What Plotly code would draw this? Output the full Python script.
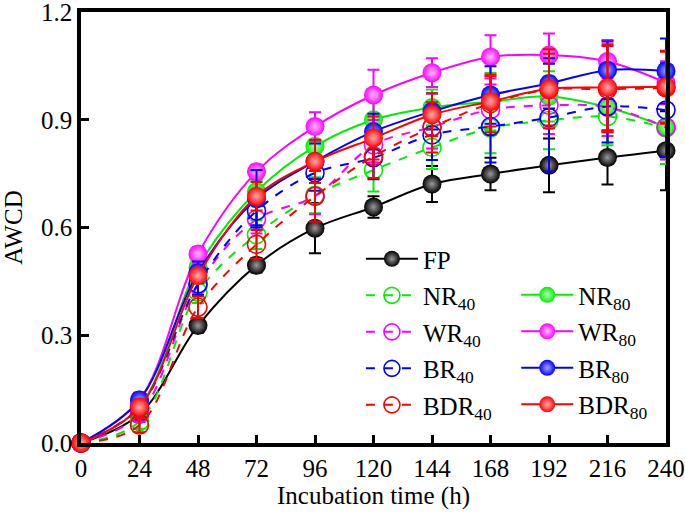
import plotly.graph_objects as go

hours = [0, 24, 48, 72, 96, 120, 144, 168, 192, 216, 240]

fp = [0, 0.08, 0.327, 0.495, 0.598, 0.657, 0.721, 0.749, 0.773, 0.795, 0.814]
nr40 = [0, 0.06, 0.42, 0.58, 0.69, 0.76, 0.823, 0.877, 0.898, 0.909, 0.877]
nr80 = [0, 0.10, 0.49, 0.70, 0.826, 0.90, 0.934, 0.95, 0.965, 0.935, 0.88]
wr40 = [0, 0.08, 0.44, 0.623, 0.687, 0.83, 0.88, 0.928, 0.94, 0.935, 0.879]
wr80 = [0, 0.12, 0.526, 0.755, 0.881, 0.969, 1.031, 1.075, 1.08, 1.062, 1.003]
br40 = [0, 0.10, 0.443, 0.646, 0.752, 0.794, 0.858, 0.881, 0.906, 0.937, 0.927]
br80 = [0, 0.12, 0.475, 0.68, 0.784, 0.867, 0.923, 0.969, 1.001, 1.038, 1.036]
bdr40 = [0, 0.05, 0.378, 0.553, 0.687, 0.798, 0.879, 0.945, 0.984, 0.985, 0.989]
bdr80 = [0, 0.10, 0.466, 0.687, 0.784, 0.849, 0.914, 0.951, 0.986, 0.99, 0.992]

fp_err = [0, 0.02, 0.02, 0.02, 0.07, 0.03, 0.05, 0.045, 0.075, 0.075, 0.11]
nr40_err = [0, 0.02, 0.03, 0.04, 0.05, 0.06, 0.06, 0.07, 0.08, 0.08, 0.1]
nr80_err = [0, 0.02, 0.03, 0.03, 0.04, 0.05, 0.05, 0.08, 0.07, 0.07, 0.09]
wr40_err = [0, 0.02, 0.03, 0.04, 0.05, 0.05, 0.06, 0.07, 0.08, 0.08, 0.09]
wr80_err = [0, 0.02, 0.02, 0.02, 0.04, 0.07, 0.04, 0.06, 0.06, 0.06, 0.06]
br40_err = [0, 0.02, 0.03, 0.04, 0.05, 0.06, 0.07, 0.1, 0.15, 0.1, 0.13]
br80_err = [0, 0.02, 0.03, 0.08, 0.05, 0.05, 0.05, 0.08, 0.07, 0.08, 0.09]
bdr40_err = [0, 0.02, 0.03, 0.04, 0.07, 0.06, 0.07, 0.08, 0.1, 0.12, 0.1]
bdr80_err = [0, 0.02, 0.02, 0.04, 0.06, 0.06, 0.06, 0.07, 0.11, 0.12, 0.1]

x_ticks = [0, 24, 48, 72, 96, 120, 144, 168, 192, 216, 240]
y_ticks = [0.0, 0.3, 0.6, 0.9, 1.2]

GREEN = "#00ee00"
MAG = "#ff00ff"
BLUE = "#0000ff"
RED = "#ff0000"
BLACK = "#000000"

series = [
    ("FP", fp, fp_err, BLACK, "#9a9a9a", True, "legend"),
    ("NR<sub>40</sub>", nr40, nr40_err, GREEN, None, False, "legend"),
    ("NR<sub>80</sub>", nr80, nr80_err, GREEN, "#b8ffb8", True, "legend2"),
    ("WR<sub>40</sub>", wr40, wr40_err, MAG, None, False, "legend"),
    ("WR<sub>80</sub>", wr80, wr80_err, MAG, "#ffc0ff", True, "legend2"),
    ("BR<sub>40</sub>", br40, br40_err, BLUE, None, False, "legend"),
    ("BR<sub>80</sub>", br80, br80_err, BLUE, "#a8a8ff", True, "legend2"),
    ("BDR<sub>40</sub>", bdr40, bdr40_err, RED, None, False, "legend"),
    ("BDR<sub>80</sub>", bdr80, bdr80_err, RED, "#ffb0b0", True, "legend2"),
]

FONT = "Liberation Serif"
FS = 25

fig = go.Figure()
for i, (name, ys, err, col, hl, filled, leg) in enumerate(series):
    if filled:
        marker = dict(symbol="circle", size=19, color=col,
                      gradient=dict(type="radial", color=hl),
                      line=dict(width=0))
        line = dict(color=col, width=2, shape="spline", smoothing=1)
    else:
        marker = dict(symbol="circle-open", size=18, color=col,
                      line=dict(width=1.6, color=col))
        line = dict(color=col, width=2, dash="dash", shape="spline", smoothing=1)
    fig.add_trace(go.Scatter(
        x=hours, y=ys, name=name, mode="lines+markers",
        line=line, marker=marker, cliponaxis=False,
        error_y=dict(type="data", array=err, visible=True, color=col,
                     thickness=2, width=6),
        legend=leg, legendgroup=f"g{i}",
    ))

axis_common = dict(
    showline=True, linewidth=3.5, linecolor="black", mirror=True,
    ticks="inside", ticklen=8, tickwidth=3, tickcolor="black",
    showgrid=False, zeroline=False, automargin=False,
    ticklabeloverflow="allow",
    tickfont=dict(family=FONT, size=FS, color="black"),
)

fig.update_layout(
    width=685, height=516,
    margin=dict(l=81, r=19, t=12, b=73),
    paper_bgcolor="white", plot_bgcolor="white",
    font=dict(family=FONT, size=FS, color="black"),
    xaxis=dict(range=[0, 240], tickvals=x_ticks,
               title=dict(text="Incubation time (h)", standoff=4,
                          font=dict(family=FONT, size=FS)),
               **axis_common),
    yaxis=dict(range=[0, 1.2], tickvals=y_ticks, tickformat=".1f",
               title=dict(text="AWCD", standoff=20,
                          font=dict(family=FONT, size=FS)),
               **axis_common),
    legend=dict(x=0.4785, y=0.48, xanchor="left", yanchor="top",
                bgcolor="rgba(0,0,0,0)", borderwidth=0,
                traceorder="grouped", tracegroupgap=1, itemwidth=52,
                font=dict(family=FONT, size=FS)),
    legend2=dict(x=0.744, y=0.3965, xanchor="left", yanchor="top",
                 bgcolor="rgba(0,0,0,0)", borderwidth=0,
                 traceorder="grouped", tracegroupgap=1, itemwidth=52,
                 font=dict(family=FONT, size=FS)),
    showlegend=True,
)

fig.write_html("out.html", post_script="document.body.style.margin='0';",
               config={"displayModeBar": False})
